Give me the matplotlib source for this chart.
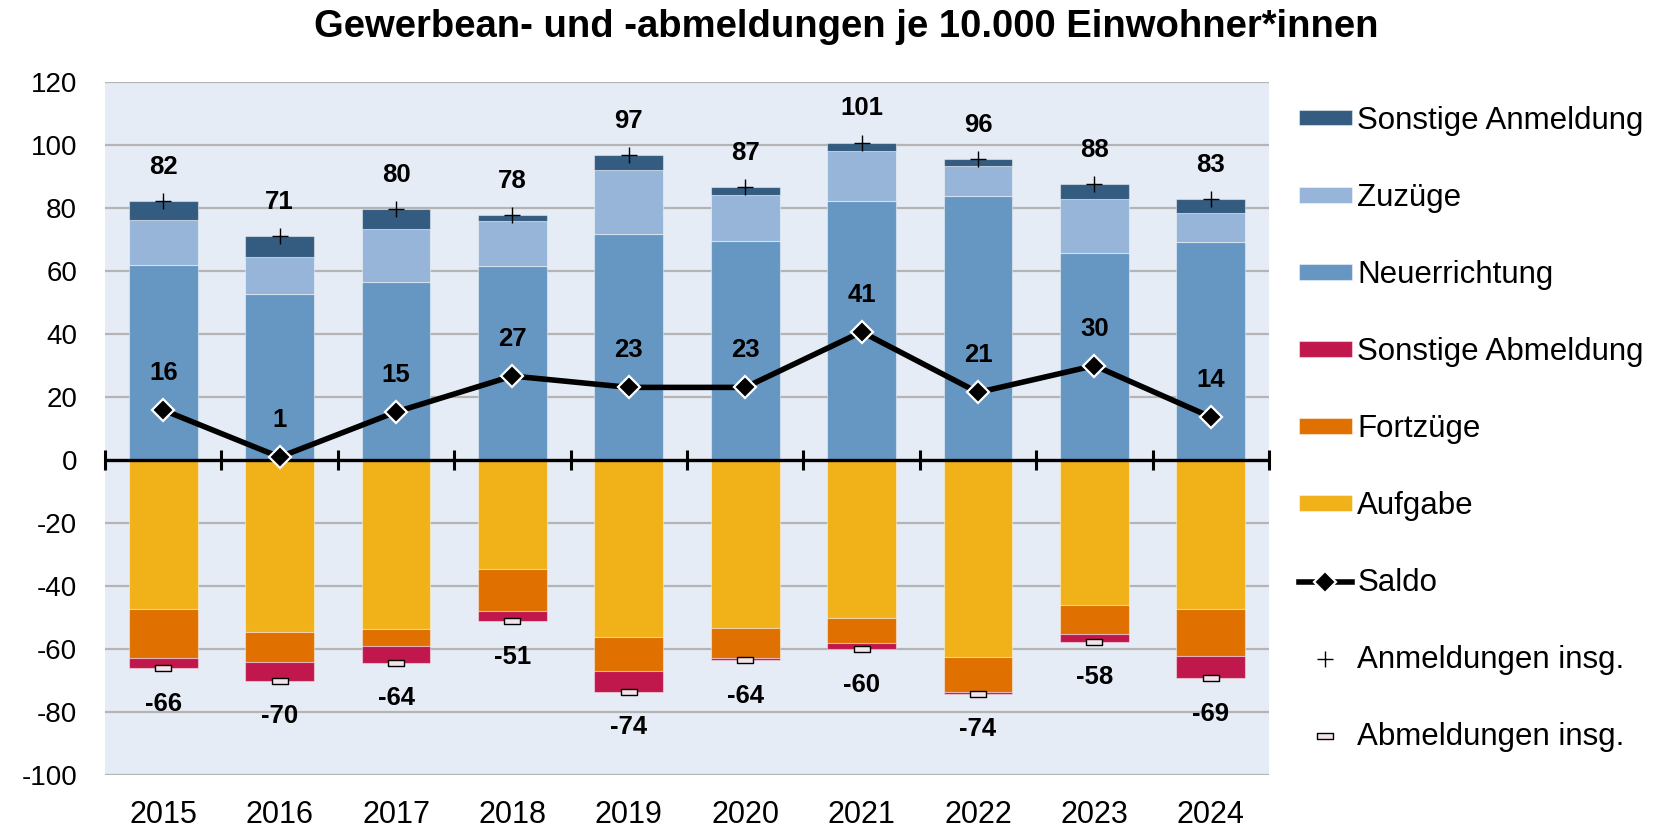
import numpy as np
import matplotlib
matplotlib.use("Agg")
import matplotlib.pyplot as plt
from matplotlib.path import Path

plt.rcParams["axes.unicode_minus"] = False
plt.rcParams["font.family"] = ["Liberation Sans", "DejaVu Sans"]

years = ["2015", "2016", "2017", "2018", "2019", "2020", "2021", "2022", "2023", "2024"]

# Anmeldungen (positive)
neuerrichtung = [61.9, 52.7, 56.4, 61.6, 71.7, 69.4, 82.0, 83.6, 65.7, 69.0]
zuzuege = [14.3, 11.7, 17.0, 14.1, 20.2, 14.8, 15.9, 9.8, 17.2, 9.3]
sonstige_anm = [5.8, 6.6, 6.2, 2.1, 4.7, 2.4, 2.8, 2.2, 4.7, 4.6]

# Abmeldungen (magnitudes, drawn negative)
aufgabe = [47.4, 54.7, 53.7, 34.5, 56.3, 53.3, 50.2, 62.6, 46.0, 47.3]
fortzuege = [15.6, 9.4, 5.4, 13.4, 10.7, 9.6, 8.0, 11.1, 9.2, 15.0]
sonstige_abm = [3.2, 6.0, 5.3, 3.3, 6.6, 0.7, 1.9, 0.5, 2.5, 7.0]

c_son_anm = "#345C80"
c_zuz = "#96B5D9"
c_neu = "#6697C2"
c_son_abm = "#C0184C"
c_fort = "#E07000"
c_auf = "#F0B119"
bg = "#E6ECF6"

x = np.arange(len(years))
neu = np.array(neuerrichtung)
zuz = np.array(zuzuege)
sa = np.array(sonstige_anm)
auf = -np.array(aufgabe)
fort = -np.array(fortzuege)
sab = -np.array(sonstige_abm)
anm_total = neu + zuz + sa
abm_total = auf + fort + sab
saldo = anm_total + abm_total

def rnd(v):
    return int(np.sign(v) * np.floor(abs(v) + 0.5))

fig = plt.figure(figsize=(16.67, 8.30), dpi=100)
ax = fig.add_axes([105 / 1667, 1 - 775 / 830, 1164 / 1667, (775 - 81.7) / 830])
ax.set_facecolor(bg)
for s in ax.spines.values():
    s.set_visible(False)

w = 0.59
ek = dict(edgecolor=(1, 1, 1, 0.45), linewidth=0.8, zorder=2)
h_neu = ax.bar(x, neu, w, color=c_neu, label="Neuerrichtung", **ek)
h_zuz = ax.bar(x, zuz, w, bottom=neu, color=c_zuz, label="Zuzüge", **ek)
h_sa = ax.bar(x, sa, w, bottom=neu + zuz, color=c_son_anm, label="Sonstige Anmeldung", **ek)
h_auf = ax.bar(x, auf, w, color=c_auf, label="Aufgabe", **ek)
h_fort = ax.bar(x, fort, w, bottom=auf, color=c_fort, label="Fortzüge", **ek)
h_sab = ax.bar(x, sab, w, bottom=auf + fort, color=c_son_abm, label="Sonstige Abmeldung", **ek)

# zero line with tick marks at category boundaries
ax.axhline(0, color="black", lw=2.4, zorder=3)
bounds = np.arange(len(years) + 1) - 0.5
ax.plot(bounds, np.zeros_like(bounds), ls="none", marker="|", ms=14, mew=2.2,
        color="black", zorder=3, clip_on=False)

h_saldo, = ax.plot(x, saldo, color="black", lw=4.0, marker="D", ms=11,
                   mfc="black", mec="white", mew=1.6, zorder=5, label="Saldo")
h_anm, = ax.plot(x, anm_total, ls="none", marker="+", ms=11, mew=1.0,
                 color="black", zorder=6, label="Anmeldungen insg.")
rect = Path([(-1, -0.32), (1, -0.32), (1, 0.32), (-1, 0.32), (-1, -0.32)],
            [Path.MOVETO, Path.LINETO, Path.LINETO, Path.LINETO, Path.CLOSEPOLY])
h_abm, = ax.plot(x, abm_total, ls="none", marker=rect, ms=12, mew=1.0,
                 mfc="#F4E4EA", mec="black", zorder=6, label="Abmeldungen insg.")

lab_font = dict(fontsize=18.5, fontweight="bold", family=["Liberation Sans Narrow", "Liberation Sans"],
                ha="center", va="center", zorder=7)
for xi, v in zip(x, anm_total):
    ax.annotate(f"{rnd(v)}", (xi, v), xytext=(0, 24.5), textcoords="offset points", **lab_font)
for xi, v in zip(x, abm_total):
    ax.annotate(f"{rnd(v)}", (xi, v), xytext=(0, -25.6), textcoords="offset points", **lab_font)
for xi, v in zip(x, saldo):
    ax.annotate(f"{rnd(v)}", (xi, v), xytext=(0, 26.6), textcoords="offset points", **lab_font)

ax.set_xlim(-0.5, len(years) - 0.5)
ax.set_ylim(-100, 120)
ax.set_yticks(np.arange(-100, 121, 20))
ax.yaxis.grid(True, color="#B4B4B4", lw=1.6, zorder=0)
ax.set_axisbelow(True)
ax.set_xticks(x)
ax.set_xticklabels(years)
ax.tick_params(axis="both", length=0, pad=20)
ax.tick_params(axis="y", labelsize=20)
ax.tick_params(axis="x", labelsize=22, pad=18)

fig.suptitle("Gewerbean- und -abmeldungen je 10.000 Einwohner*innen",
             x=846 / 1667, y=1 - 27 / 830, va="center", fontsize=27.5, fontweight="bold",
             family=["Liberation Sans Narrow", "Liberation Sans"])

handles = [h_sa, h_zuz, h_neu, h_sab, h_fort, h_auf, h_saldo, h_anm, h_abm]
labels = [h.get_label() for h in handles]
fig.legend(handles, labels, loc="upper left", bbox_to_anchor=(1299 / 1667, 1 - 106 / 830),
           frameon=False, fontsize=22.5, handlelength=1.69, handleheight=0.38,
           handletextpad=0.17, labelspacing=1.505, borderpad=0, borderaxespad=0, numpoints=1)

fig.savefig("out.png", dpi=100)
